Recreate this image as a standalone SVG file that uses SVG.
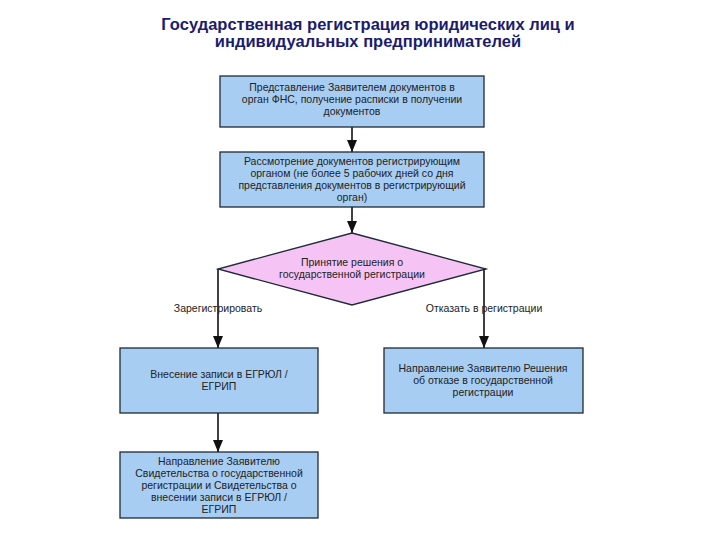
<svg xmlns="http://www.w3.org/2000/svg" width="720" height="540" viewBox="0 0 720 540">
<defs>
<marker id="arr" markerWidth="12" markerHeight="10" refX="12" refY="5" orient="auto" markerUnits="userSpaceOnUse" viewBox="0 0 12 10">
<path d="M0,0 L12,5 L0,10 Z" fill="#111"/>
</marker>
</defs>
<style>
.box{fill:#a8cdf2;stroke:#1e2a36;stroke-width:1.3}
.dia{fill:#f6c4f4;stroke:#1e2a36;stroke-width:1.3}
.t{font-family:"Liberation Sans",Arial,sans-serif;font-size:10.5px;fill:#222;text-anchor:middle}
.lbl{font-family:"Liberation Sans",Arial,sans-serif;font-size:10.5px;fill:#222;text-anchor:middle}
.title{font-family:"Liberation Sans",Arial,sans-serif;font-size:16.5px;font-weight:bold;fill:#1c1c6e;text-anchor:middle}
.c{stroke:#111;stroke-width:1.6;fill:none}
</style>
<rect width="720" height="540" fill="#fff"/>
<g id="title">
<text class="title" x="368" y="30">Государственная регистрация юридических лиц и</text>
<text class="title" x="368" y="47">индивидуальных предпринимателей</text>
</g>
<g id="connectors">
<line class="c" x1="352" y1="127" x2="352" y2="152" marker-end="url(#arr)"/>
<line class="c" x1="352" y1="207" x2="352" y2="233" marker-end="url(#arr)"/>
<polyline class="c" points="218,269 218,348" marker-end="url(#arr)"/>
<polyline class="c" points="486,269 484,269 484,348" marker-end="url(#arr)"/>
<line class="c" x1="218" y1="413" x2="218" y2="452" marker-end="url(#arr)"/>
<text class="lbl" x="218" y="312">Зарегистрировать</text>
<text class="lbl" x="484" y="312">Отказать в регистрации</text>
</g>
<g id="n1">
<rect class="box" x="220" y="76" width="264" height="51"/>
<text class="t" x="352" y="91">Представление Заявителем документов в</text>
<text class="t" x="352" y="103">орган ФНС, получение расписки в получении</text>
<text class="t" x="352" y="115">документов</text>
</g>
<g id="n2">
<rect class="box" x="220" y="152" width="264" height="55"/>
<text class="t" x="352" y="165">Рассмотрение документов регистрирующим</text>
<text class="t" x="352" y="177">органом (не более 5 рабочих дней со дня</text>
<text class="t" x="352" y="189">представления документов в регистрирующий</text>
<text class="t" x="352" y="201">орган)</text>
</g>
<g id="n3">
<polygon class="dia" points="352,233 486,269 352,305 218,269"/>
<text class="t" x="352" y="266">Принятие решения о</text>
<text class="t" x="352" y="278">государственной регистрации</text>
</g>
<g id="n4">
<rect class="box" x="120" y="348" width="198" height="65"/>
<text class="t" x="219" y="378">Внесение записи в ЕГРЮЛ /</text>
<text class="t" x="219" y="390">ЕГРИП</text>
</g>
<g id="n5">
<rect class="box" x="384" y="348" width="199" height="65"/>
<text class="t" x="483" y="372">Направление Заявителю Решения</text>
<text class="t" x="483" y="384">об отказе в государственной</text>
<text class="t" x="483" y="396">регистрации</text>
</g>
<g id="n6">
<rect class="box" x="120" y="452" width="198" height="66"/>
<text class="t" x="219" y="465">Направление Заявителю</text>
<text class="t" x="219" y="477">Свидетельства о государственной</text>
<text class="t" x="219" y="489">регистрации и Свидетельства о</text>
<text class="t" x="219" y="501">внесении записи в ЕГРЮЛ /</text>
<text class="t" x="219" y="513">ЕГРИП</text>
</g>
</svg>
